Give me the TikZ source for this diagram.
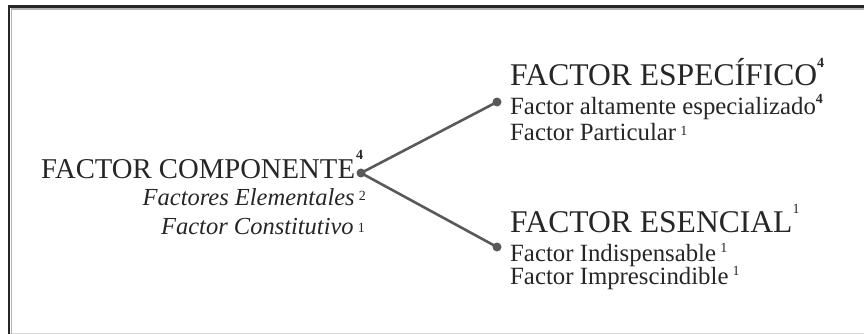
\documentclass[tikz,border=0pt]{standalone}
\usepackage{fontspec}
\setmainfont{Liberation Serif}
\newcommand\supr[2]{\raisebox{#1}{\fontsize{14}{14}\selectfont #2}}
\begin{document}
\begin{tikzpicture}[x=1pt,y=-1pt,
  txt/.style={inner sep=0pt, text=black!85},
  bigl/.style={txt, font=\fontsize{28.7}{28.7}\selectfont},
  big/.style={txt, font=\fontsize{31.6}{31.6}\selectfont},
  small/.style={txt, font=\fontsize{24.8}{24.8}\selectfont},
  ital/.style={txt, font=\fontsize{24.5}{24.5}\selectfont\itshape},
  dotnode/.style={circle, fill=black!65, inner sep=0pt, minimum size=9pt},
  link/.style={draw=black!65, line width=2.6pt}]
\useasboundingbox (0,0) rectangle (864,334);
% frame
\draw[black!15, line width=1pt] (9,333) -- (870,333);
\draw[black!30, line width=1.5pt] (11.5,340) -- (11.5,8.8) -- (870,8.8);
\draw[black!85, line width=2.4pt] (9,340) -- (9,6.5) -- (870,6.5);
% left group
\node[bigl, anchor=base west] (comp) at (41,178) {FACTOR COMPONENTE};
\node[txt, anchor=base west, font=\fontsize{14}{14}\selectfont\bfseries] (comps) at (356,159) {4};
\node[ital, anchor=base east] (comp1) at (366,205) {Factores Elementales\,\supr{5pt}{\upshape 2}};
\node[ital, anchor=base east] (comp2) at (365,234) {Factor Constitutivo\,\supr{2pt}{\upshape 1}};
% right top group
\node[big, anchor=base west] (esp) at (510,86) {FACTOR ESPECÍFICO\supr{18pt}{\bfseries 4}};
\node[small, anchor=base west] (esp1) at (510,115) {Factor altamente especializado\supr{11pt}{\bfseries 4}};
\node[small, anchor=base west] (esp2) at (510,140) {Factor Particular\,\supr{5pt}{1}};
% right bottom group
\node[big, anchor=base west] (ese) at (510,232) {FACTOR ESENCIAL\supr{19pt}{1}};
\node[small, anchor=base west] (ese1) at (510,261) {Factor Indispensable\,\supr{9pt}{1}};
\node[small, anchor=base west] (ese2) at (510,284) {Factor Imprescindible\,\supr{9pt}{1}};
% dots and connectors
\node[dotnode] (d0) at (361,173) {};
\node[dotnode] (d1) at (497,102) {};
\node[dotnode] (d2) at (497,247) {};
\draw[link] (d0.center) -- (d1.center);
\draw[link] (d0.center) -- (d2.center);
\end{tikzpicture}
\end{document}
